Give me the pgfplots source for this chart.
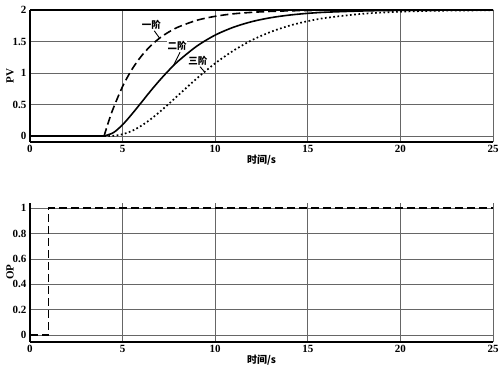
\documentclass[border=0pt]{standalone}
\usepackage{pgfplots}
\pgfplotsset{compat=1.18}
\usepackage{fontspec}
\setmainfont{Liberation Serif}
\newfontfamily\cjk{Noto Sans CJK SC}
\begin{document}
\begin{tikzpicture}[x=1pt,y=1pt]
\pgfplotsset{
  myax/.style={
    scale only axis, width=463pt,
    xmin=0, xmax=25, xtick={0,5,...,25},
    axis x line*=bottom, axis y line*=left,
    axis line style={line width=2pt,-},
    grid=major, major grid style={gray!80!black, line width=0.7pt},
    major tick length=0pt,
    /pgf/number format/assume math mode=true,
    ticklabel style={font=\bfseries\fontsize{11}{13}\selectfont},
    xlabel={\cjk\bfseries\fontsize{10}{12}\selectfont 时间/s},
    xlabel style={yshift=5pt},
    ylabel style={font=\bfseries\fontsize{11}{13}\selectfont, at={(axis description cs:-0.043,0.5)}, anchor=center},
    clip=false,
  }
}
\begin{axis}[myax, at={(30pt,225.3pt)}, anchor=south west, height=131.7pt,
  ymin=-0.09, ymax=2, ytick={0,0.5,1,1.5,2}, ylabel={PV}]
\addplot[black, line width=1.8pt] coordinates {(0,2) (25,2)};
\addplot[black, line width=1.6pt] coordinates {(0,0) (4,0)};
\addplot[black, line width=1.6pt, dash pattern=on 8pt off 4pt, smooth] coordinates {
(4,0) (4.25,0.235) (4.5,0.442) (5,0.787) (5.5,1.055) (6,1.264) (6.5,1.427) (7,1.554) (7.5,1.652) (8,1.729) (9,1.836) (10,1.900) (11,1.940) (12,1.963) (13,1.978) (14,1.987) (15,1.992) (16,1.995) (18,1.998) (20,1.999) (25,2.0)};
\addplot[black, line width=1.6pt, smooth] coordinates {
(4,0) (4.5,0.053) (5,0.180) (5.5,0.347) (6,0.528) (6.5,0.711) (7,0.884) (7.5,1.044) (8,1.188) (9,1.425) (10,1.602) (11,1.728) (12,1.817) (13,1.878) (14,1.919) (15,1.947) (16,1.965) (18,1.985) (20,1.994) (25,2.0)};
\addplot[black, line width=1.7pt, dash pattern=on 1.7pt off 2.5pt, smooth] coordinates {
(4,0) (4.5,0.004) (5,0.029) (5.5,0.081) (6,0.161) (6.5,0.263) (7,0.382) (7.5,0.512) (8,0.647) (9,0.912) (10,1.154) (11,1.358) (12,1.524) (13,1.653) (14,1.751) (15,1.823) (16,1.876) (18,1.941) (20,1.973) (22,1.988) (25,1.996)};
\node[font=\cjk\bfseries\fontsize{9.5}{11}\selectfont, fill=white, inner sep=0.3pt] at (axis cs:6.55,1.76) {一阶};
\draw[black, line width=0.9pt] (axis cs:6.71,1.67) -- (axis cs:6.98,1.56);
\node[font=\cjk\bfseries\fontsize{9.5}{11}\selectfont, fill=white, inner sep=0.3pt] at (axis cs:7.95,1.43) {二阶};
\draw[black, line width=0.9pt] (axis cs:8.1,1.33) -- (axis cs:7.75,1.12);
\node[font=\cjk\bfseries\fontsize{9.5}{11}\selectfont, fill=white, inner sep=0.3pt] at (axis cs:9.07,1.20) {三阶};
\draw[black, line width=0.9pt] (axis cs:9.18,1.10) -- (axis cs:9.45,1.01);
\end{axis}
\begin{axis}[myax, at={(30pt,25.3pt)}, anchor=south west, height=139pt,
  ymin=-0.053, ymax=1.044, ytick={0,0.2,...,1}, ylabel={OP}]
\addplot[black, line width=1.8pt, dash pattern=on 8pt off 4pt] coordinates {(0,0) (1,0) (1,1) (25,1)};
\end{axis}
\pgfresetboundingbox
\useasboundingbox (0,0) rectangle (500,367);
\end{tikzpicture}
\end{document}
